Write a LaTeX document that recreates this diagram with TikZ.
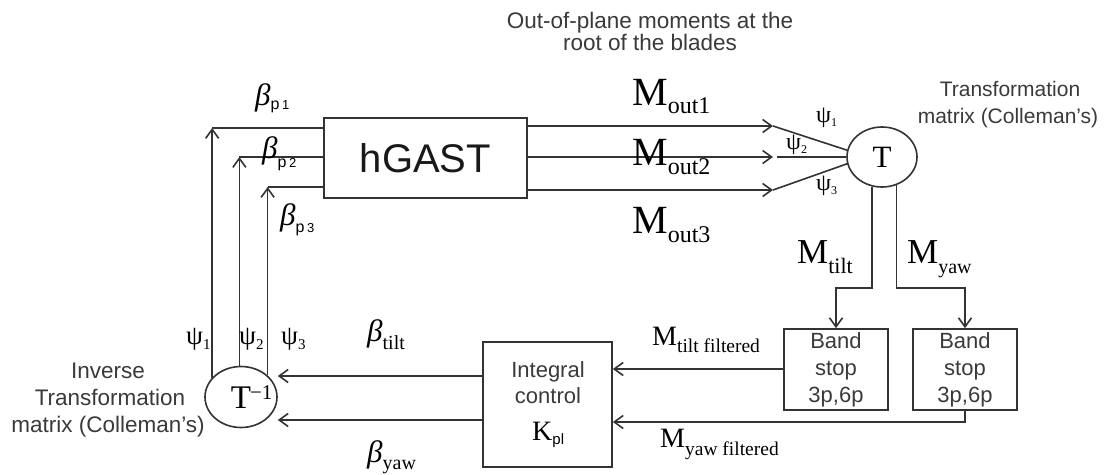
\documentclass[tikz,border=0pt]{standalone}
\usepackage{fontspec}
\setmainfont{Liberation Sans}
\newfontfamily\serif{Liberation Serif}
\newfontfamily\sans{Liberation Sans}
\usetikzlibrary{arrows.meta,shapes.geometric}
\definecolor{linec}{HTML}{333333}
\definecolor{descc}{HTML}{3A3A3A}
\newcommand\fs[1]{\fontsize{#1}{#1}\selectfont}
\newcommand\lowsub[3]{\raisebox{-#1pt}{\fs{#2}#3}}
\tikzset{
 ln/.style={draw=linec, line width=1.6pt},
 arr/.style={ln, -{Straight Barb[length=9pt,width=13pt]}},
 box/.style={draw=linec, line width=1.7pt, rectangle, inner sep=0pt},
 ell/.style={draw=linec, line width=1.6pt, ellipse, inner sep=0pt},
 lbl/.style={inner sep=0pt, anchor=base west, text=black},
 desc/.style={inner sep=0pt, anchor=base, text=descc},
}
\begin{document}
\begin{tikzpicture}[x=1pt,y=-1pt]
\useasboundingbox[fill=white] (0,0) rectangle (1110,474);

% main blocks
\node[box, minimum width=203pt, minimum height=80pt, font=\fs{40}, text=black!90] (G) at (425.5,158) {hGAST};
\node[ell, minimum width=70pt, minimum height=60pt] (T) at (882,157) {\serif\fs{31}T};
\node[ell, minimum width=72pt, minimum height=61pt] (Ti) at (241,397) {\serif\fs{33}T\rlap{\raisebox{9pt}{\fs{21}\hspace{-1pt}−1}}};
\node[box, minimum width=129pt, minimum height=125pt] (I) at (547.5,404.5) {};
\node[box, minimum width=104pt, minimum height=81pt, align=center, text=descc, font=\fs{22}\setlength{\baselineskip}{27pt}] (B1) at (836,369.5) {Band\\stop\\3p,6p};
\node[box, minimum width=104pt, minimum height=81pt, align=center, text=descc, font=\fs{22}\setlength{\baselineskip}{27pt}] (B2) at (965,369.5) {Band\\stop\\3p,6p};

% texts inside integral box
\node[desc, font=\fs{22}] (i1) at (548,377) {Integral};
\node[desc, font=\fs{22}] (i2) at (548,403) {control};
\node[lbl] (kpl) at (532,440) {\serif\fs{28}K\lowsub{4}{15}{\sans pl}};

% descriptive texts
\node[desc, font=\fs{22.5}] (o1) at (650,28) {Out-of-plane moments at the};
\node[desc, font=\fs{22.5}] (o2) at (650,50) {root of the blades};
\node[desc, font=\fs{21}] (t1) at (1010,96) {Transformation};
\node[desc, font=\fs{21}] (t2) at (1008,123) {matrix (Colleman's)};
\node[desc, font=\fs{22.5}] (v1) at (108,378) {Inverse};
\node[desc, font=\fs{22.5}] (v2) at (110,405) {Transformation};
\node[desc, font=\fs{22.5}] (v3) at (108,432) {matrix (Colleman's)};

% coordinates
\coordinate (a1) at (773,126);
\coordinate (a2) at (773,157);
\coordinate (a2b) at (777,157);
\coordinate (a3) at (773,190);
\coordinate (h1) at (0,288);
\coordinate (yt) at (0,369);
\coordinate (yy) at (0,422);
\coordinate (zt) at (0,376);
\coordinate (zy) at (0,420);
\coordinate (p1) at (0,128);
\coordinate (p2) at (0,157);
\coordinate (p3) at (0,187);

% hGAST -> T
\draw[arr] (G.east |- a1) -- (a1);
\draw[ln] (a1) -- (T.169);
\draw[arr] (G.east |- a2) -- (a2);
\draw[ln] (a2b) -- (T.west);
\draw[arr] (G.east |- a3) -- (a3);
\draw[ln] (a3) -- (T.191);

% T -> band stops
\draw[arr] (T.251) |- (B1.north |- h1) -- (B1.north);
\draw[arr] (T.297) |- (B2.north |- h1) -- (B2.north);

% band stops -> integral
\draw[arr] (B1.west |- yt) -- (I.east |- yt);
\draw[arr] (B2.south) |- (I.east |- yy);

% integral -> T^-1
\draw[arr] (I.west |- zt) -- (Ti.east |- zt);
\draw[arr] (I.west |- zy) -- (Ti.east |- zy);

% T^-1 -> hGAST
\draw[arr] (Ti.146) -- (Ti.146 |- p1);
\draw[ln] (Ti.146 |- p1) -- (G.west |- p1);
\draw[arr] (Ti.93) -- (Ti.93 |- p2);
\draw[ln] (Ti.93 |- p2) -- (G.west |- p2);
\draw[arr] (Ti.39) -- (Ti.39 |- p3);
\draw[ln] (Ti.39 |- p3) -- (G.west |- p3);

% M labels
\node[lbl] (mo1) at (632,105) {\serif\fs{40}M\lowsub{8}{24}{out1}};
\node[lbl] (mo2) at (632,165) {\serif\fs{40}M\lowsub{9}{24}{out2}};
\node[lbl] (mo3) at (632,233) {\serif\fs{40}M\lowsub{9}{24}{out3}};
\node[lbl] (mt) at (797,263) {\serif\fs{35}M\lowsub{10}{22}{tilt}};
\node[lbl] (my) at (907,263) {\serif\fs{35}M\lowsub{10}{20}{yaw}};
\node[lbl] (mtf) at (652,345) {\serif\fs{28}M\lowsub{7}{19.5}{tilt filtered}};
\node[lbl] (myf) at (660,447) {\serif\fs{28}M\lowsub{8}{19.5}{yaw filtered}};

% beta labels
\node[lbl] (bp1) at (255,105) {{\serif\itshape\fs{31}β}\lowsub{4}{16}{\sans p\,{\fs{13}1}}};
\node[lbl] (bp2) at (262,158) {{\serif\itshape\fs{31}β}\lowsub{9}{16}{\sans p\,{\fs{13}2}}};
\node[lbl] (bp3) at (280,225) {{\serif\itshape\fs{31}β}\lowsub{7}{16}{\sans p\,{\fs{13}3}}};
\node[lbl] (bt) at (367,341) {{\serif\itshape\fs{31}β}\lowsub{8}{20}{\serif tilt}};
\node[lbl] (by) at (367,462) {{\serif\itshape\fs{31}β}\lowsub{7}{20}{\serif yaw}};

% psi labels near T
\node[lbl] (s1) at (816,122) {\serif\fs{24}ψ\lowsub{4}{12}{1}};
\node[lbl] (s2) at (786,149) {\serif\fs{24}ψ\lowsub{4}{12}{2}};
\node[lbl] (s3) at (816,190) {\serif\fs{24}ψ\lowsub{4}{12}{3}};
% psi labels near T^-1
\node[lbl] (r1) at (186,344) {\serif\fs{27}ψ\lowsub{5}{15}{1}};
\node[lbl] (r2) at (239,344) {\serif\fs{27}ψ\lowsub{5}{15}{2}};
\node[lbl] (r3) at (281,344) {\serif\fs{27}ψ\lowsub{5}{15}{3}};
\end{tikzpicture}
\end{document}
